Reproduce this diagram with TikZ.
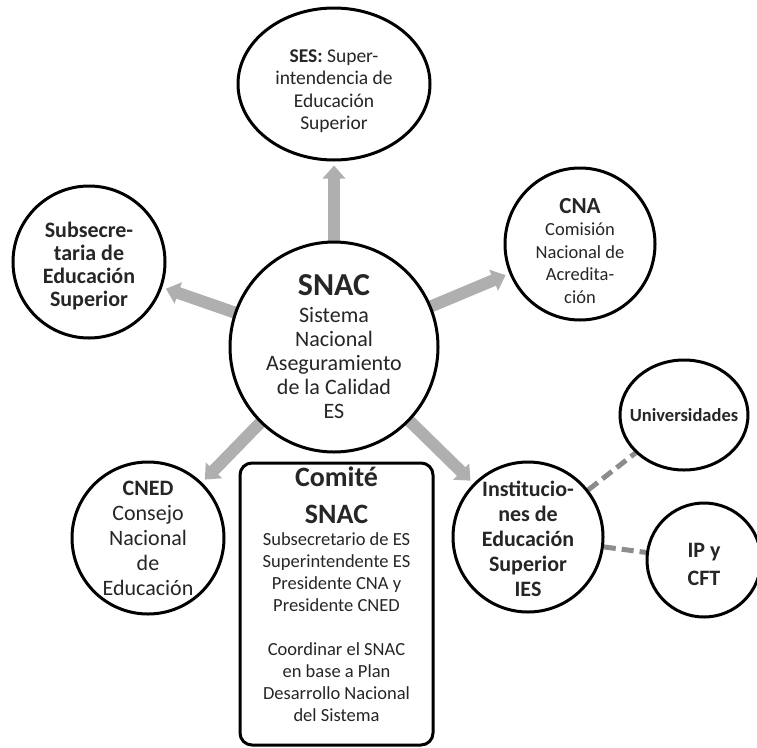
\documentclass[tikz,border=0pt]{standalone}
\usepackage{fontspec}
\setmainfont{Carlito}
\definecolor{arrg}{HTML}{AFAFAF}
\definecolor{dashg}{HTML}{8C8C8C}
\definecolor{ink}{HTML}{262626}
\usetikzlibrary{arrows.meta,shapes.geometric,backgrounds}
\newcommand{\fs}[2]{\fontsize{#1}{#2}\selectfont}
\tikzset{
  orb/.style={ellipse,draw=black,line width=3pt,fill=white,inner sep=0pt},
  txt/.style={align=center,text=ink,inner sep=0pt},
  cbox/.style={draw=black,line width=3pt,fill=white,rounded corners=12pt,inner sep=0pt},
  bigarr/.style={draw=arrg,line width=12pt,-{Triangle[width=22pt,length=13pt]},shorten >=4pt,shorten <=-2pt},
  dashln/.style={draw=dashg,line width=5pt,dash pattern=on 12pt off 6pt},
}

\begin{document}
\begin{tikzpicture}[x=1pt,y=-1pt]
\useasboundingbox (0,0) rectangle (757,747);
% shapes
\node[orb,minimum width=208pt,minimum height=210pt] (snac) at (334,347) {};
\node[orb,minimum width=192pt,minimum height=152pt] (ses) at (334,84) {};
\node[orb,minimum width=152pt,minimum height=152pt] (sub) at (89,262) {};
\node[orb,minimum width=150pt,minimum height=152pt] (cna) at (580,244) {};
\node[orb,minimum width=152pt,minimum height=152pt] (cned) at (148,538) {};
\node[orb,minimum width=150pt,minimum height=150pt] (ies) at (528,537) {};
\node[orb,minimum width=128pt,minimum height=110pt] (univ) at (684,415) {};
\node[orb,minimum width=114pt,minimum height=114pt] (ipcft) at (704,560) {};
\node[cbox,minimum width=193pt,minimum height=282pt] (com) at (336.5,604) {};
% texts
\node[txt,font=\fs{18.5}{22}] (comt) at (336.5,594) {{\fs{28}{35}\bfseries Comité}\\[15pt]{\fs{28}{35}\bfseries SNAC}\\
  Subsecretario de ES\\Superintendente ES\\Presidente CNA y\\Presidente CNED\\[22pt]
  Coordinar el SNAC\\en base a Plan\\Desarrollo Nacional\\del Sistema};
\node[txt,font=\fs{22}{24}] (snact) at (snac) {{\fs{32}{34}\bfseries SNAC}\\[3pt]Sistema\\Nacional\\Aseguramiento\\de la Calidad\\ES};
\node[txt,font=\fs{19.5}{22.5}] (sest) at (334,91) {\textbf{SES:} Super-\\intendencia de\\Educación\\Superior};
\node[txt,font=\fs{22}{23}\bfseries] (subt) at (89,266) {Subsecre-\\taria de\\Educación\\Superior};
\node[txt,font=\fs{18.5}{22.5}] (cnat) at (580,251) {{\fs{23}{25}\bfseries CNA}\\Comisión\\Nacional de\\Acredita-\\ción};
\node[txt,font=\fs{22}{25}] (cnedt) at (148,538) {\textbf{CNED}\\Consejo\\Nacional\\de\\Educación};
\node[txt,font=\fs{22}{25}\bfseries] (iest) at (528,539) {Institucio-\\nes de\\Educación\\Superior\\IES};
\node[txt,font=\fs{18.5}{20}\bfseries] (univt) at (684,415) {Universidades};
\node[txt,font=\fs{22}{28}\bfseries] (ipcftt) at (704,564) {IP y\\CFT};
% connectors
\begin{scope}[on background layer]
\draw[bigarr] (snac) -- (ses);
\draw[bigarr] (snac) -- (sub);
\draw[bigarr] (snac) -- (cna);
\draw[bigarr] (snac) -- (cned);
\draw[bigarr] (snac) -- (ies);
\draw[dashln] (ies) -- (univ);
\draw[dashln] (ies) -- (ipcft);
\end{scope}
\end{tikzpicture}
\end{document}
